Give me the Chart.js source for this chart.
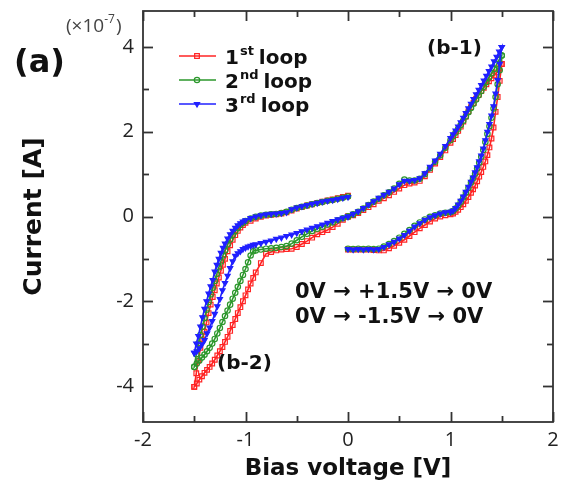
<!DOCTYPE html>
<html>
<head>
<meta charset="utf-8">
<script src="https://cdn.jsdelivr.net/npm/chart.js@4/dist/chart.umd.min.js"></script>
<style>
  html, body { margin: 0; padding: 0; background: #fff; }
  #wrap { width: 567px; height: 491px; }
</style>
</head>
<body>
<div id="wrap"><canvas id="ivChart" width="567" height="491"></canvas></div>
<script>
// axis ticks
const xTicks = [-2, -1, 0, 1, 2];
const xMinorTicks = [-1.5, -0.5, 0.5, 1.5];
const yTicks = [-4, -2, 0, 2, 4];
const yMinorTicks = [-3, -1, 1, 3];

// loop names for the legend
const loopNumbers = ['1', '2', '3'];
const loopSuffixes = ['st', 'nd', 'rd'];

// bias voltage [V] for each sweep part
const voltUp = [0, 0.05, 0.1, 0.15, 0.2, 0.25, 0.3, 0.35, 0.4, 0.45,
  0.5, 0.55, 0.6, 0.65, 0.7, 0.75, 0.8, 0.85, 0.9, 0.95,
  1.0, 1.025, 1.05, 1.075, 1.1, 1.125, 1.15, 1.175, 1.2, 1.225,
  1.25, 1.275, 1.3, 1.325, 1.35, 1.375, 1.4, 1.425, 1.45, 1.475, 1.5];
const voltDown = [1.5, 1.48, 1.46, 1.44, 1.42, 1.4, 1.38, 1.36, 1.34, 1.32,
  1.3, 1.28, 1.26, 1.24, 1.22, 1.2,
  1.175, 1.15, 1.125, 1.1, 1.075, 1.05, 1.025, 1.0,
  0.95, 0.9, 0.85, 0.8, 0.75, 0.7, 0.65, 0.6, 0.55, 0.5,
  0.45, 0.4, 0.35, 0.3, 0.25, 0.2, 0.15, 0.1, 0.05, 0];
const voltNegOut = [0, -0.05, -0.1, -0.15, -0.2, -0.25, -0.3, -0.35, -0.4, -0.45,
  -0.5, -0.55, -0.6, -0.65, -0.7, -0.75, -0.8, -0.85, -0.9,
  -0.925, -0.95, -0.975, -1.0, -1.025, -1.05, -1.075, -1.1,
  -1.125, -1.15, -1.175, -1.2, -1.225, -1.25, -1.275, -1.3,
  -1.325, -1.35, -1.375, -1.4, -1.425, -1.45, -1.475, -1.5];
const voltNegBack = [-1.5, -1.48, -1.46, -1.44, -1.42, -1.4, -1.38, -1.36, -1.34, -1.32,
  -1.3, -1.28, -1.26, -1.24, -1.22, -1.2,
  -1.175, -1.15, -1.125, -1.1, -1.075, -1.05, -1.025, -1.0,
  -0.95, -0.9, -0.85, -0.8, -0.75, -0.7, -0.65, -0.6, -0.55, -0.5,
  -0.45, -0.4, -0.35, -0.3, -0.25, -0.2, -0.15, -0.1, -0.05, 0];

// current [x1e-7 A], 1st loop
const loop1Up = [0, 0.03, 0.08, 0.15, 0.22, 0.29, 0.37, 0.43, 0.5, 0.58,
  0.66, 0.74, 0.78, 0.8, 0.84, 0.95, 1.1, 1.25, 1.4, 1.56,
  1.74, 1.83, 1.92, 2.02, 2.12, 2.24, 2.36, 2.48, 2.58, 2.68,
  2.78, 2.87, 2.96, 3.04, 3.12, 3.19, 3.26, 3.33, 3.4, 3.5, 3.6];
const loop1Down = [3.6, 3.2, 2.82, 2.47, 2.1, 1.84, 1.63, 1.45, 1.3, 1.17,
  1.05, 0.94, 0.83, 0.73, 0.64, 0.56,
  0.46, 0.37, 0.29, 0.22, 0.16, 0.11, 0.07, 0.05,
  0.03, 0.0, -0.05, -0.12, -0.2, -0.28, -0.37, -0.46, -0.55, -0.62,
  -0.69, -0.75, -0.8, -0.8, -0.79, -0.78, -0.78, -0.78, -0.78, -0.78];
const loop1NegOut = [0, -0.08, -0.17, -0.25, -0.32, -0.37, -0.42, -0.5, -0.58, -0.65,
  -0.72, -0.76, -0.77, -0.78, -0.8, -0.84, -0.88, -1.1, -1.32,
  -1.45, -1.58, -1.72, -1.86, -2.0, -2.14, -2.28, -2.42,
  -2.56, -2.7, -2.84, -2.96, -3.08, -3.18, -3.28, -3.38,
  -3.47, -3.55, -3.62, -3.69, -3.77, -3.85, -3.94, -4.02];
const loop1NegBack = [-4.02, -3.7, -3.4, -3.1, -2.9, -2.72, -2.5, -2.28, -2.08, -1.9,
  -1.74, -1.58, -1.44, -1.28, -1.14, -1.0,
  -0.82, -0.68, -0.55, -0.44, -0.34, -0.26, -0.2, -0.15,
  -0.1, -0.05, -0.01, 0.02, 0.04, 0.05, 0.07, 0.1, 0.14, 0.19,
  0.22, 0.26, 0.29, 0.32, 0.35, 0.38, 0.4, 0.43, 0.46, 0.49];

// 2nd loop
const loop2Up = [0, 0.05, 0.11, 0.19, 0.27, 0.35, 0.42, 0.5, 0.57, 0.66,
  0.77, 0.87, 0.85, 0.85, 0.89, 1.0, 1.14, 1.29, 1.44, 1.62,
  1.8, 1.89, 1.98, 2.07, 2.16, 2.26, 2.36, 2.46, 2.56, 2.66,
  2.76, 2.86, 2.96, 3.06, 3.17, 3.28, 3.38, 3.48, 3.59, 3.7, 3.8];
const loop2Down = [3.8, 3.45, 3.12, 2.82, 2.55, 2.33, 2.13, 1.95, 1.76, 1.57,
  1.41, 1.27, 1.13, 1.01, 0.9, 0.8,
  0.68, 0.56, 0.45, 0.35, 0.26, 0.19, 0.13, 0.1,
  0.09, 0.07, 0.03, -0.01, -0.07, -0.14, -0.22, -0.32, -0.41, -0.5,
  -0.58, -0.65, -0.71, -0.76, -0.77, -0.76, -0.77, -0.76, -0.77, -0.76];
const loop2NegOut = [0, -0.04, -0.09, -0.14, -0.19, -0.24, -0.29, -0.34, -0.41, -0.48,
  -0.56, -0.64, -0.7, -0.72, -0.74, -0.75, -0.76, -0.78, -0.8,
  -0.82, -0.92, -1.08, -1.24, -1.38, -1.52, -1.66, -1.8,
  -1.94, -2.08, -2.22, -2.35, -2.49, -2.63, -2.76, -2.89,
  -3.0, -3.1, -3.18, -3.26, -3.33, -3.4, -3.47, -3.55];
const loop2NegBack = [-3.55, -3.25, -3.0, -2.8, -2.6, -2.4, -2.2, -2.02, -1.84, -1.68,
  -1.52, -1.36, -1.2, -1.06, -0.92, -0.8,
  -0.66, -0.54, -0.44, -0.35, -0.27, -0.2, -0.15, -0.11,
  -0.05, -0.01, 0.02, 0.04, 0.05, 0.06, 0.08, 0.11, 0.16, 0.2,
  0.23, 0.26, 0.29, 0.32, 0.34, 0.37, 0.39, 0.42, 0.44, 0.47];

// 3rd loop
const loop3Up = [0, 0.06, 0.12, 0.2, 0.28, 0.36, 0.44, 0.51, 0.58, 0.66,
  0.76, 0.84, 0.84, 0.86, 0.9, 1.02, 1.17, 1.32, 1.48, 1.66,
  1.85, 1.94, 2.03, 2.12, 2.22, 2.33, 2.44, 2.55, 2.66, 2.77,
  2.88, 2.99, 3.1, 3.21, 3.32, 3.43, 3.54, 3.66, 3.77, 3.89, 4.0];
const loop3Down = [4.0, 3.6, 3.22, 2.9, 2.6, 2.38, 2.18, 2.0, 1.8, 1.6,
  1.44, 1.3, 1.16, 1.04, 0.92, 0.82,
  0.7, 0.58, 0.47, 0.37, 0.28, 0.2, 0.14, 0.11,
  0.1, 0.07, 0.03, -0.02, -0.08, -0.16, -0.24, -0.34, -0.44, -0.52,
  -0.6, -0.66, -0.72, -0.77, -0.78, -0.77, -0.78, -0.77, -0.78, -0.77];
const loop3NegOut = [0, -0.03, -0.07, -0.11, -0.15, -0.19, -0.23, -0.27, -0.31, -0.35,
  -0.39, -0.43, -0.46, -0.5, -0.53, -0.57, -0.6, -0.63, -0.66,
  -0.67, -0.69, -0.71, -0.74, -0.77, -0.82, -0.87, -0.93,
  -1.06, -1.22, -1.4, -1.57, -1.74, -1.95, -2.12, -2.3,
  -2.47, -2.62, -2.76, -2.92, -3.02, -3.11, -3.18, -3.22];
const loop3NegBack = [-3.22, -3.0, -2.82, -2.6, -2.38, -2.18, -2.0, -1.82, -1.65, -1.5,
  -1.3, -1.14, -1.0, -0.86, -0.74, -0.64,
  -0.52, -0.42, -0.34, -0.27, -0.21, -0.16, -0.12, -0.09,
  -0.04, 0.0, 0.03, 0.05, 0.06, 0.07, 0.08, 0.1, 0.17, 0.21,
  0.24, 0.27, 0.3, 0.32, 0.35, 0.37, 0.39, 0.41, 0.44, 0.46];

const loopColors = ['#ff2424', '#2b972b', '#2020ff'];
const loopPointStyles = ['rect', 'circle', 'triangle'];
const loopPointRotation = [0, 0, 180];
const loopPointRadius = [3.3, 2.7, 3.0];
const loopFill = ['rgba(255,255,255,0)', 'rgba(255,255,255,0)', '#2020ff'];

function toPoints(volts, currents) {
    return volts.map((v, i) => ({ x: v, y: currents[i] }));
}

// positive half and negative half are separate so they are not joined at 0 V
const loops = [
    [loop1Up, loop1Down, loop1NegOut, loop1NegBack],
    [loop2Up, loop2Down, loop2NegOut, loop2NegBack],
    [loop3Up, loop3Down, loop3NegOut, loop3NegBack]
];

const datasets = [];
loops.forEach((parts, k) => {
    const halves = [
        toPoints(voltUp, parts[0]).concat(toPoints(voltDown, parts[1])),
        toPoints(voltNegOut, parts[2]).concat(toPoints(voltNegBack, parts[3]))
    ];
    halves.forEach(pts => {
        datasets.push({
            data: pts,
            showLine: true,
            borderColor: loopColors[k],
            borderWidth: 1.6,
            pointStyle: loopPointStyles[k],
            pointRotation: loopPointRotation[k],
            pointRadius: loopPointRadius[k],
            pointBorderWidth: 1.2,
            pointBorderColor: loopColors[k],
            pointBackgroundColor: loopFill[k],
            order: 3 - k
        });
    });
});

const tickFont = { family: 'Open Sans', size: 20 };
const boldFamily = 'DejaVu Sans';

// frame, inward ticks on four sides, legend and the notes
const decorPlugin = {
    id: 'decor',
    afterDraw(chart) {
        const { ctx, chartArea: a, scales } = chart;
        const xs = scales.x, ys = scales.y;
        ctx.save();
        ctx.strokeStyle = '#333';
        ctx.lineWidth = 1.8;
        ctx.strokeRect(a.left, a.top, a.right - a.left, a.bottom - a.top);

        const line = (x1, y1, x2, y2) => {
            ctx.beginPath(); ctx.moveTo(x1, y1); ctx.lineTo(x2, y2); ctx.stroke();
        };
        const xTick = (v, len) => {
            const p = Math.round(xs.getPixelForValue(v)) + 0.5;
            line(p, a.bottom, p, a.bottom - len);
            line(p, a.top, p, a.top + len);
        };
        const yTick = (v, len) => {
            const p = Math.round(ys.getPixelForValue(v)) + 0.5;
            line(a.left, p, a.left + len, p);
            line(a.right, p, a.right - len, p);
        };
        xTicks.forEach(v => xTick(v, 10));
        xMinorTicks.forEach(v => xTick(v, 6));
        yTicks.forEach(v => yTick(v, 10));
        yMinorTicks.forEach(v => yTick(v, 6));

        // legend
        ctx.textBaseline = 'alphabetic';
        loopNumbers.forEach((num, k) => {
            const cy = 56 + 24 * k;
            ctx.strokeStyle = loopColors[k];
            ctx.fillStyle = loopFill[k];
            ctx.lineWidth = 1.6;
            line(179, cy, 216, cy);
            ctx.lineWidth = 1.2;
            Chart.helpers.drawPoint(ctx, {
                pointStyle: loopPointStyles[k], rotation: loopPointRotation[k],
                radius: loopPointRadius[k], borderWidth: 1.2
            }, 197, cy);
            ctx.fillStyle = '#111';
            ctx.font = 'bold 20px ' + boldFamily;
            let x = 225;
            ctx.fillText(num, x, cy + 8);
            x += ctx.measureText(num).width + 1;
            ctx.font = 'bold 13px ' + boldFamily;
            ctx.fillText(loopSuffixes[k], x, cy - 1);
            x += ctx.measureText(loopSuffixes[k]).width + 5;
            ctx.font = 'bold 20px ' + boldFamily;
            ctx.fillText('loop', x, cy + 8);
        });

        // multiplier
        ctx.fillStyle = '#444';
        ctx.font = '19px Open Sans';
        let mx = 66;
        ctx.fillText('(\u00d710', mx, 32);
        mx += ctx.measureText('(\u00d710').width;
        ctx.font = '12px Open Sans';
        ctx.fillText('-7', mx, 23);
        mx += ctx.measureText('-7').width + 1;
        ctx.font = '19px Open Sans';
        ctx.fillText(')', mx, 32);

        ctx.fillStyle = '#111';
        ctx.font = 'bold 32px ' + boldFamily;
        ctx.fillText('(a)', 14, 72);
        ctx.font = 'bold 20px ' + boldFamily;
        ctx.fillText('(b-1)', 427, 54);
        ctx.fillText('(b-2)', 217, 369);
        ctx.font = 'bold 21px ' + boldFamily;
        ctx.fillText('0V \u2192 +1.5V \u2192 0V', 295, 298);
        ctx.fillText('0V \u2192 -1.5V \u2192 0V', 295, 323);
        ctx.restore();
    }
};

new Chart(document.getElementById('ivChart'), {
    type: 'scatter',
    data: { datasets: datasets },
    options: {
        responsive: false,
        animation: false,
        devicePixelRatio: 1,
        layout: { padding: { left: 0, right: 14, top: 11, bottom: 0 } },
        plugins: { legend: { display: false }, tooltip: { enabled: false } },
        scales: {
            x: {
                type: 'linear',
                min: -2,
                max: 2,
                afterBuildTicks: s => { s.ticks = xTicks.map(v => ({ value: v })); },
                afterFit: s => {
                    s.height = 69;
                    s.paddingLeft = 0;
                    s.paddingRight = 0;
                },
                grid: { display: false, drawTicks: false },
                border: { display: false },
                ticks: { font: tickFont, color: '#222', padding: 6 },
                title: {
                    display: true,
                    text: 'Bias voltage [V]',
                    color: '#111',
                    font: { family: boldFamily, size: 23, weight: 'bold' },
                    padding: { top: 0, bottom: 8 }
                }
            },
            y: {
                type: 'linear',
                min: -4.85,
                max: 4.85,
                afterBuildTicks: s => { s.ticks = yTicks.map(v => ({ value: v })); },
                afterFit: s => {
                    s.width = 143;
                    s.paddingTop = 0;
                    s.paddingBottom = 0;
                },
                grid: { display: false, drawTicks: false },
                border: { display: false },
                ticks: { font: tickFont, color: '#222', padding: 9 },
                title: {
                    display: true,
                    text: 'Current [A]',
                    color: '#111',
                    font: { family: boldFamily, size: 25, weight: 'bold' },
                    padding: { top: 19, bottom: 0 }
                }
            }
        }
    },
    plugins: [decorPlugin]
});
</script>
</body>
</html>
